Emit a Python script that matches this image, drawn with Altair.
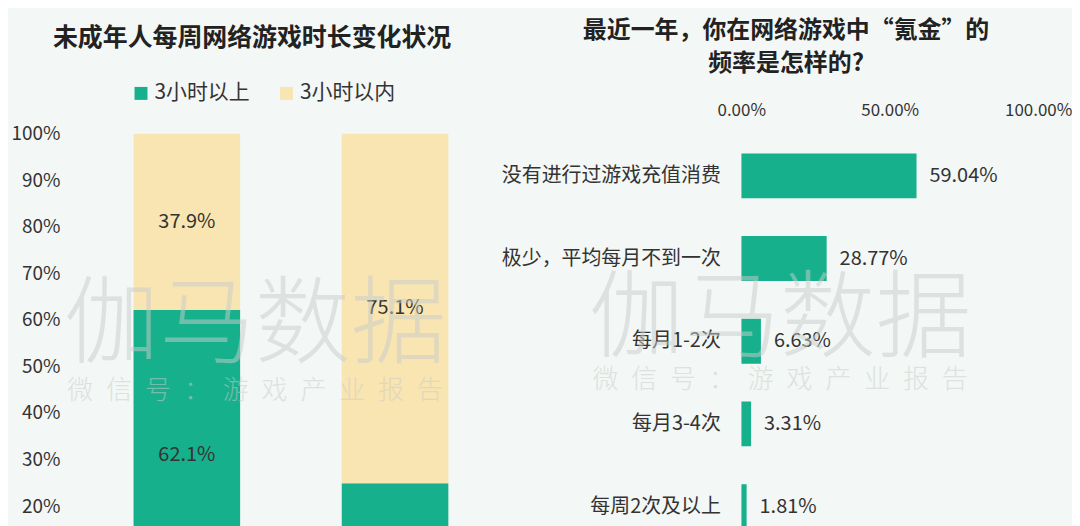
import altair as alt
import pandas as pd

# ---------------- data ----------------
periods = ["第一期", "第二期"]          # x labels are cropped out of the picture
series = ["3小时以上", "3小时以内"]
over3 = [62.1, 24.9]
under3 = [37.9, 75.1]
left_ticks = [20, 30, 40, 50, 60, 70, 80, 90, 100]

freq_labels = ["没有进行过游戏充值消费", "极少，平均每月不到一次", "每月1-2次", "每月3-4次", "每周2次及以上"]
freq_values = [59.04, 28.77, 6.63, 3.31, 1.81]
right_ticks = [0, 50, 100]

left_title = "未成年人每周网络游戏时长变化状况"
right_title = ["最近一年，你在网络游戏中“氪金”的", "频率是怎样的?"]
watermark_main = ["伽马数据"]
watermark_sub = ["\u2002".join("微信号：游戏产业报告")]

GREEN = "#17b08c"
YELLOW = "#f9e5b1"
BG = "#f3f7f5"
TXT = "#333333"
WM = "#c9cccb"
FONT = "Noto Sans CJK SC"

# ---------------- tables ----------------
rows = []
for i, p in enumerate(periods):
    base_val = 0.0
    for j, (s, vals) in enumerate(zip(series, [over3, under3])):
        v = vals[i]
        rows.append({"period": p, "series": s, "value": v, "order": j,
                     "mid": base_val + v / 2, "label": f"{v:.1f}%"})
        base_val += v
df_left = pd.DataFrame(rows)

df_right = pd.DataFrame({"cat": freq_labels, "value": freq_values,
                         "label": [f"{v:.2f}%" for v in freq_values]})
df_wm1 = pd.DataFrame({"t": watermark_main})
df_wm2 = pd.DataFrame({"t": watermark_sub})

# ---------------- left panel ----------------
LW, LH = 460, 396
xs_left = alt.Scale(domain=periods, range=[64, 380], paddingInner=0.488, paddingOuter=0)
ys_left = alt.Scale(domain=[15.29, 100], nice=False, zero=False)

lbase = alt.Chart(df_left)
lbars = lbase.mark_bar(clip=True).encode(
    x=alt.X("period:N", sort=periods, scale=xs_left, axis=None),
    y=alt.Y("value:Q", stack="zero", scale=ys_left,
            axis=alt.Axis(values=left_ticks, labelExpr="datum.value + '%'", title=None,
                          grid=False, domain=False, ticks=False, tickSize=0,
                          labelPadding=10, labelFontSize=19)),
    color=alt.Color("series:N", scale=alt.Scale(domain=series, range=[GREEN, YELLOW]),
                    legend=alt.Legend(title=None, orient="none", direction="horizontal",
                                      legendX=61, legendY=-51, symbolType="square",
                                      symbolSize=169, symbolStrokeWidth=0,
                                      labelFontSize=21, labelColor=TXT, labelFont=FONT,
                                      columnPadding=26, labelOffset=3, padding=0)),
    order=alt.Order("order:Q"),
)
ltext = lbase.mark_text(clip=True, fontSize=20, color=TXT, font=FONT, baseline="middle").encode(
    x=alt.X("period:N", sort=periods, scale=xs_left, axis=None),
    y=alt.Y("mid:Q", scale=ys_left),
    text="label:N",
)
lwm1 = alt.Chart(df_wm1).mark_text(fontSize=96, fontWeight=300, color=WM, opacity=0.5, font=FONT,
                                   align="center", baseline="middle").encode(
    text="t:N", x=alt.value(186), y=alt.value(194))
lwm2 = alt.Chart(df_wm2).mark_text(fontSize=26, fontWeight=300, color=WM, opacity=0.5, font=FONT,
                                   align="center", baseline="middle").encode(
    text="t:N", x=alt.value(186), y=alt.value(258))

left = alt.layer(lbars, ltext, lwm1, lwm2).properties(
    width=LW, height=LH,
    title=alt.TitleParams(left_title, fontSize=25, fontWeight="bold", color="#222222",
                          font=FONT, anchor="middle", frame="group", dx=-47, offset=74),
)

# ---------------- right panel ----------------
RW, RH = 298, 396
xs_right = alt.Scale(domain=[0, 100], nice=False)
ys_right = alt.Scale(domain=freq_labels, range=[20, 397], paddingInner=0.458, paddingOuter=0)

rbase = alt.Chart(df_right)
rbars = rbase.mark_bar(clip=True, color=GREEN).encode(
    x=alt.X("value:Q", scale=xs_right,
            axis=alt.Axis(orient="top", values=right_ticks,
                          labelExpr="format(datum.value, '.2f') + '%'", title=None,
                          grid=False, domain=False, ticks=False, tickSize=0,
                          labelPadding=14, labelFontSize=17, labelFlush=False)),
    y=alt.Y("cat:N", sort=freq_labels, scale=ys_right,
            axis=alt.Axis(title=None, labelFontSize=20, labelPadding=21, ticks=False,
                          tickSize=0, domain=False, labelLimit=400, grid=False)),
)
rtext = rbase.mark_text(clip=True, align="left", baseline="middle", dx=13, fontSize=20,
                        color=TXT, font=FONT).encode(
    x=alt.X("value:Q", scale=xs_right),
    y=alt.Y("cat:N", sort=freq_labels, scale=ys_right),
    text="label:N",
)
rwm1 = alt.Chart(df_wm1).mark_text(fontSize=96, fontWeight=300, color=WM, opacity=0.5, font=FONT,
                                   align="center", baseline="middle").encode(
    text="t:N", x=alt.value(39), y=alt.value(188))
rwm2 = alt.Chart(df_wm2).mark_text(fontSize=26, fontWeight=300, color=WM, opacity=0.5, font=FONT,
                                   align="center", baseline="middle").encode(
    text="t:N", x=alt.value(39), y=alt.value(247))

right = alt.layer(rbars, rtext, rwm1, rwm2).properties(
    width=RW, height=RH,
    title=alt.TitleParams(right_title, fontSize=24, fontWeight="bold", color="#222222",
                          font=FONT, anchor="middle", frame="group", dx=-104, offset=26,
                          lineHeight=33),
)

chart = alt.hconcat(left, right, spacing=214, bounds="flush").properties(
    padding={"left": 2, "top": 10, "right": 0, "bottom": 0},
    background=BG,
).configure_view(stroke=None).configure_axis(
    labelFont=FONT, labelColor=TXT
).configure_text(font=FONT)

chart.save("out.html", embed_options={"renderer": "svg", "actions": False})
